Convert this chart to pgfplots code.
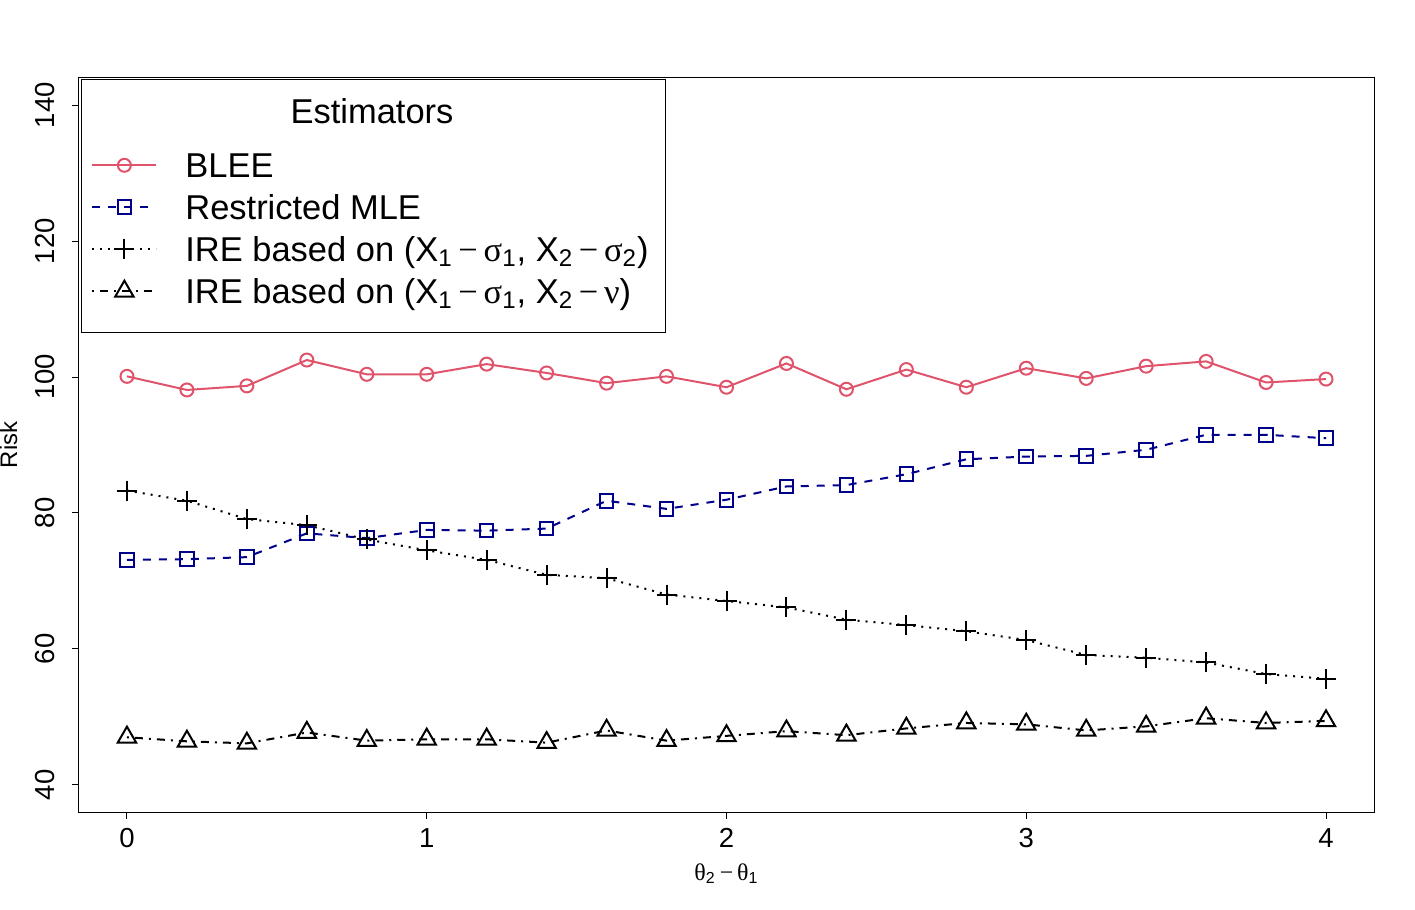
\documentclass[border=0pt]{standalone}
\usepackage{pgfplots}
\pgfplotsset{compat=1.18}
\usepackage{fontspec}
\setmainfont{Liberation Sans}
\newfontfamily\grk{Liberation Serif}
\definecolor{bleecol}{HTML}{DF536B}
\definecolor{mlecol}{HTML}{00008B}
\newcommand{\mn}{\,{\grk −}\,}
\begin{document}
\begin{tikzpicture}
\begin{axis}[
  scale only axis,
  width=647.5bp, height=367bp,
  xmin=-0.16, xmax=4.16, ymin=36, ymax=144,
  xtick={0,1,2,3,4}, ytick={40,60,80,100,120,140},
  tick pos=left, tick align=outside,
  major tick length=3.5bp,
  every tick/.style={black, line width=0.5bp},
  axis line style={line width=0.5bp},
  /pgf/number format/assume math mode=true,
  ticklabel style={font=\fontsize{13.8}{15}\selectfont},
  xticklabel style={anchor=base, inner sep=0pt, yshift=-14bp},
  yticklabel style={rotate=90, anchor=base, inner sep=0pt, xshift=0bp, yshift=8.5bp},
  xlabel={{\grk θ}\textsubscript{2}\mn{\grk θ}\textsubscript{1}},
  ylabel={Risk},
  xlabel style={at={(axis description cs:0.5,-0.0927)}, anchor=base, font=\fontsize{12}{14}\selectfont},
  ylabel style={at={(axis description cs:-0.0477,0.5)}, anchor=base, rotate=0, font=\fontsize{12}{14}\selectfont},
  legend image code/.code={\draw[mark repeat=2,mark phase=2,#1] plot coordinates {(0bp,1.2bp) (16bp,1.2bp) (32bp,1.2bp)};},
  legend cell align=left,
  legend style={draw=none, fill=none, at={(rel axis cs:0,1)}, anchor=north west,
    xshift=6bp, yshift=-36.4bp, inner sep=0pt, row sep=4.5bp, column sep=14bp,
    nodes={inner sep=0pt, text height=13bp, text depth=3.5bp},
    font=\fontsize{17.3}{19}\selectfont},
]
\addplot[bleecol, line width=1bp, mark=o, mark size=3.25bp, mark options={solid, line width=1bp}] coordinates {
(0,100.1) (0.2,98.1) (0.4,98.7) (0.6,102.5) (0.8,100.4) (1.0,100.4) (1.2,101.9)
(1.4,100.6) (1.6,99.1) (1.8,100.1) (2.0,98.5) (2.2,102.0) (2.4,98.2) (2.6,101.1)
(2.8,98.5) (3.0,101.3) (3.2,99.8) (3.4,101.6) (3.6,102.3) (3.8,99.2) (4.0,99.7)};
\addlegendentry{BLEE}
\addplot[mlecol, line width=1bp, dash pattern=on 4bp off 4bp, mark=square, mark size=3.4bp, mark options={solid, line width=1bp}] coordinates {
(0,73.1) (0.2,73.2) (0.4,73.5) (0.6,77.0) (0.8,76.3) (1.0,77.5) (1.2,77.4)
(1.4,77.7) (1.6,81.8) (1.8,80.6) (2.0,81.95) (2.2,83.9) (2.4,84.1) (2.6,85.7)
(2.8,87.9) (3.0,88.3) (3.2,88.4) (3.4,89.3) (3.6,91.5) (3.8,91.5) (4.0,91.0)};
\addlegendentry{Restricted MLE}
\addplot[black, line width=1bp, dash pattern=on 1bp off 3bp, mark=+, mark size=5bp, mark options={solid, line width=1bp}] coordinates {
(0,83.3) (0.2,81.8) (0.4,79.1) (0.6,78.2) (0.8,76.1) (1.0,74.5) (1.2,73.1)
(1.4,70.9) (1.6,70.4) (1.8,68.0) (2.0,67.05) (2.2,66.1) (2.4,64.3) (2.6,63.5)
(2.8,62.6) (3.0,61.3) (3.2,59.1) (3.4,58.7) (3.6,58.0) (3.8,56.3) (4.0,55.6)};
\addlegendentry{IRE based on (X\textsubscript{1}\mn{\grk σ}\textsubscript{1}, X\textsubscript{2}\mn{\grk σ}\textsubscript{2})}
\addplot[black, line width=1bp, dash pattern=on 1bp off 3bp on 4bp off 3bp, mark=triangle, mark size=5.3bp, mark options={solid, line width=1bp}] coordinates {
(0,47.0) (0.2,46.4) (0.4,46.1) (0.6,47.7) (0.8,46.5) (1.0,46.7) (1.2,46.7)
(1.4,46.2) (1.6,48.0) (1.8,46.5) (2.0,47.2) (2.2,47.9) (2.4,47.3) (2.6,48.3)
(2.8,49.1) (3.0,48.9) (3.2,48.0) (3.4,48.6) (3.6,49.8) (3.8,49.1) (4.0,49.4)};
\addlegendentry{IRE based on (X\textsubscript{1}\mn{\grk σ}\textsubscript{1}, X\textsubscript{2}\mn{\grk ν})}
\end{axis}
\draw[line width=0.5bp] ([xshift=1bp,yshift=-1bp]current axis.north west) rectangle ++(292bp,-126.5bp);
\node[font=\fontsize{17.3}{19}\selectfont, inner sep=0pt] at ([xshift=146.5bp,yshift=-16.5bp]current axis.north west) {Estimators};
\pgfresetboundingbox
\path ([xshift=-39.5bp,yshift=-49bp]current axis.south west) rectangle ([xshift=20.5bp,yshift=39bp]current axis.north east);
\end{tikzpicture}
\end{document}
